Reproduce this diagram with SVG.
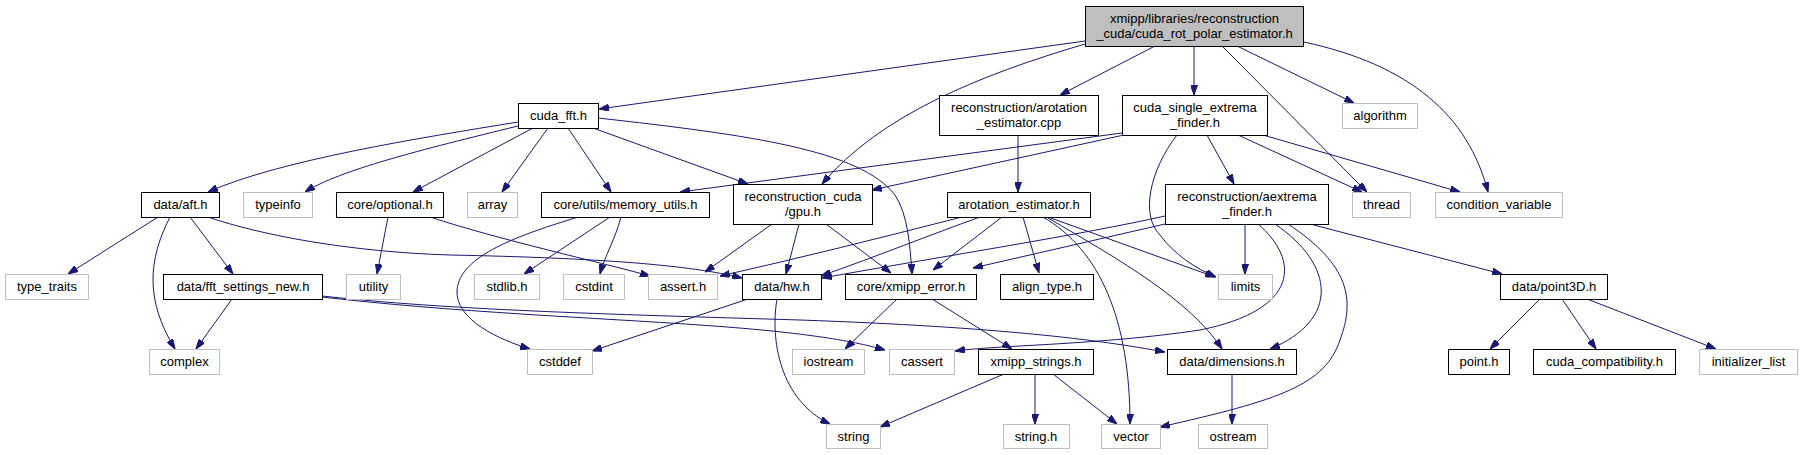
<svg xmlns="http://www.w3.org/2000/svg" width="1802" height="455" viewBox="0 0 1802 455">
<style>
text{font-family:"Liberation Sans",Arial,sans-serif;font-size:13px;fill:#000;text-anchor:middle}
.n rect{fill:#fff;stroke:#000;stroke-width:1}
.g rect{fill:#fff;stroke:#bfbfbf;stroke-width:1}
.m rect{fill:#bfbfbf;stroke:#000;stroke-width:1}
#edges path{fill:none;stroke:#191970;stroke-width:1;marker-end:url(#ah)}
</style>
<defs>
<marker id="ah" viewBox="0 0 10 7" refX="10" refY="3.5" markerWidth="10" markerHeight="7" markerUnits="userSpaceOnUse" orient="auto">
<path d="M0,0 L10,3.5 L0,7 z" fill="#191970" stroke="#191970"/>
</marker>
</defs>
<rect width="1802" height="455" fill="#fff"/>
<g id="edges">
<path d="M1085,41 L599,109"/>
<path d="M1155,46 L1060,95"/>
<path d="M1085,44 C980,75 880,115 822,184"/>
<path d="M1194,46 L1194,95"/>
<path d="M1222,46 L1367,192"/>
<path d="M1237,46 L1354,103"/>
<path d="M1304,42 C1410,65 1468,115 1488,192"/>
<path d="M518,122 C420,138 280,160 208,192"/>
<path d="M518,126 C420,150 340,170 305,192"/>
<path d="M533,128 L413,192"/>
<path d="M548,128 L502,192"/>
<path d="M568,128 L611,192"/>
<path d="M593,128 L748,184"/>
<path d="M598,118 C750,135 860,150 895,195 C908,215 910,245 912,274"/>
<path d="M158,217 L68,274"/>
<path d="M170,217 C148,260 145,300 175,349"/>
<path d="M190,217 L233,274"/>
<path d="M208,217 C260,235 350,252 450,255 C600,258 690,265 742,278"/>
<path d="M232,299 L196,349"/>
<path d="M322,297 C450,312 600,318 700,325 C800,332 850,340 885,350"/>
<path d="M322,296 C450,310 600,314 800,320 C1000,327 1100,340 1165,352"/>
<path d="M388,217 L377,274"/>
<path d="M430,217 C500,240 600,262 650,276"/>
<path d="M610,217 L524,274"/>
<path d="M621,217 C615,240 605,255 600,274"/>
<path d="M578,217 C520,235 460,255 457,290 C455,320 500,340 530,349"/>
<path d="M772,224 L705,272"/>
<path d="M799,224 L786,274"/>
<path d="M826,224 L891,273"/>
<path d="M748,299 L592,351"/>
<path d="M777,299 C770,340 780,400 830,424"/>
<path d="M897,299 L845,349"/>
<path d="M932,299 L1012,349"/>
<path d="M1004,374 L880,427"/>
<path d="M1035,374 L1035,424"/>
<path d="M1053,374 L1117,424"/>
<path d="M1018,135 L1018,192"/>
<path d="M962,217 C880,238 800,258 720,276"/>
<path d="M980,217 C930,235 880,255 821,276"/>
<path d="M1002,217 L933,270"/>
<path d="M1023,217 L1039,273"/>
<path d="M1043,217 C1100,250 1130,320 1130,424"/>
<path d="M1048,217 L1215,277"/>
<path d="M1048,218 C1120,260 1190,300 1222,349"/>
<path d="M1122,133 L680,192"/>
<path d="M1124,135 L872,190"/>
<path d="M1177,135 C1150,170 1140,215 1160,235 C1175,255 1195,268 1216,277"/>
<path d="M1207,135 L1234,184"/>
<path d="M1238,135 L1362,192"/>
<path d="M1263,135 L1460,192"/>
<path d="M1165,216 C1080,235 950,255 822,278"/>
<path d="M1165,224 L973,268"/>
<path d="M1245,224 L1245,274"/>
<path d="M1258,224 C1300,260 1300,310 1200,330 C1100,345 1000,345 955,351"/>
<path d="M1275,224 C1335,265 1340,320 1270,349"/>
<path d="M1288,224 C1350,265 1355,300 1340,340 C1325,385 1280,400 1160,427"/>
<path d="M1310,224 L1502,274"/>
<path d="M1540,299 L1490,349"/>
<path d="M1562,299 L1596,349"/>
<path d="M1587,299 L1716,349"/>
<path d="M1232,374 L1232,424"/>
</g>
<g id="main" class="m"><rect x="1085.5" y="6.5" width="218" height="40"/><text x="1194.5" y="22.5">xmipp/libraries/reconstruction</text><text x="1194.5" y="37.5">_cuda/cuda_rot_polar_estimator.h</text></g>
<g id="cuda_fft" class="n"><rect x="518.5" y="103.5" width="80" height="25"/><text x="558.5" y="120">cuda_fft.h</text></g>
<g id="arot_cpp" class="n"><rect x="939.5" y="95.5" width="159" height="40"/><text x="1019" y="111.5">reconstruction/arotation</text><text x="1019" y="126.5">_estimator.cpp</text></g>
<g id="cuda_single" class="n"><rect x="1122.5" y="95.5" width="145" height="40"/><text x="1195" y="111.5">cuda_single_extrema</text><text x="1195" y="126.5">_finder.h</text></g>
<g id="algorithm" class="g"><rect x="1342.5" y="103.5" width="75" height="25"/><text x="1380" y="120">algorithm</text></g>
<g id="aft" class="n"><rect x="141.5" y="192.5" width="78" height="25"/><text x="180.5" y="209">data/aft.h</text></g>
<g id="typeinfo" class="g"><rect x="243.5" y="192.5" width="69" height="25"/><text x="278" y="209">typeinfo</text></g>
<g id="optional" class="n"><rect x="336.5" y="192.5" width="107" height="25"/><text x="390" y="209">core/optional.h</text></g>
<g id="array" class="g"><rect x="467.5" y="192.5" width="50" height="25"/><text x="492.5" y="209">array</text></g>
<g id="memory_utils" class="n"><rect x="541.5" y="192.5" width="168" height="25"/><text x="625.5" y="209">core/utils/memory_utils.h</text></g>
<g id="gpu" class="n"><rect x="733.5" y="184.5" width="139" height="40"/><text x="803" y="201">reconstruction_cuda</text><text x="803" y="216">/gpu.h</text></g>
<g id="arot_h" class="n"><rect x="947.5" y="192.5" width="143" height="25"/><text x="1019" y="209">arotation_estimator.h</text></g>
<g id="aextrema" class="n"><rect x="1165.5" y="184.5" width="163" height="40"/><text x="1247" y="201">reconstruction/aextrema</text><text x="1247" y="216">_finder.h</text></g>
<g id="thread" class="g"><rect x="1352.5" y="192.5" width="58" height="25"/><text x="1381.5" y="209">thread</text></g>
<g id="condvar" class="g"><rect x="1435.5" y="192.5" width="127" height="25"/><text x="1499" y="209">condition_variable</text></g>
<g id="type_traits" class="g"><rect x="5.5" y="274.5" width="83" height="25"/><text x="47" y="291">type_traits</text></g>
<g id="fft_settings" class="n"><rect x="163.5" y="274.5" width="159" height="25"/><text x="243" y="291">data/fft_settings_new.h</text></g>
<g id="utility" class="g"><rect x="346.5" y="274.5" width="54" height="25"/><text x="373.5" y="291">utility</text></g>
<g id="stdlib" class="g"><rect x="474.5" y="274.5" width="65" height="25"/><text x="507" y="291">stdlib.h</text></g>
<g id="cstdint" class="g"><rect x="563.5" y="274.5" width="61" height="25"/><text x="594" y="291">cstdint</text></g>
<g id="assert" class="g"><rect x="648.5" y="274.5" width="69" height="25"/><text x="683" y="291">assert.h</text></g>
<g id="hw" class="n"><rect x="742.5" y="274.5" width="79" height="25"/><text x="782" y="291">data/hw.h</text></g>
<g id="xmipp_error" class="n"><rect x="845.5" y="274.5" width="131" height="25"/><text x="911" y="291">core/xmipp_error.h</text></g>
<g id="align_type" class="n"><rect x="1000.5" y="274.5" width="93" height="25"/><text x="1047" y="291">align_type.h</text></g>
<g id="limits" class="g"><rect x="1218.5" y="274.5" width="54" height="25"/><text x="1245.5" y="291">limits</text></g>
<g id="point3D" class="n"><rect x="1500.5" y="274.5" width="107" height="25"/><text x="1554" y="291">data/point3D.h</text></g>
<g id="complex" class="g"><rect x="149.5" y="349.5" width="70" height="25"/><text x="184.5" y="366">complex</text></g>
<g id="cstddef" class="g"><rect x="527.5" y="349.5" width="65" height="25"/><text x="560" y="366">cstddef</text></g>
<g id="iostream" class="g"><rect x="792.5" y="349.5" width="72" height="25"/><text x="828.5" y="366">iostream</text></g>
<g id="cassert" class="g"><rect x="889.5" y="349.5" width="65" height="25"/><text x="922" y="366">cassert</text></g>
<g id="xmipp_strings" class="n"><rect x="978.5" y="349.5" width="115" height="25"/><text x="1036" y="366">xmipp_strings.h</text></g>
<g id="dimensions" class="n"><rect x="1167.5" y="349.5" width="129" height="25"/><text x="1232" y="366">data/dimensions.h</text></g>
<g id="point" class="n"><rect x="1448.5" y="349.5" width="61" height="25"/><text x="1479" y="366">point.h</text></g>
<g id="cuda_compat" class="n"><rect x="1533.5" y="349.5" width="142" height="25"/><text x="1604.5" y="366">cuda_compatibility.h</text></g>
<g id="initializer_list" class="g"><rect x="1699.5" y="349.5" width="98" height="25"/><text x="1748.5" y="366">initializer_list</text></g>
<g id="string" class="g"><rect x="826.5" y="424.5" width="54" height="24"/><text x="853.5" y="441">string</text></g>
<g id="string_h" class="g"><rect x="1003.5" y="424.5" width="66" height="24"/><text x="1036" y="441">string.h</text></g>
<g id="vector" class="g"><rect x="1101.5" y="424.5" width="59" height="24"/><text x="1131" y="441">vector</text></g>
<g id="ostream" class="g"><rect x="1198.5" y="424.5" width="69" height="24"/><text x="1233" y="441">ostream</text></g>
</svg>
